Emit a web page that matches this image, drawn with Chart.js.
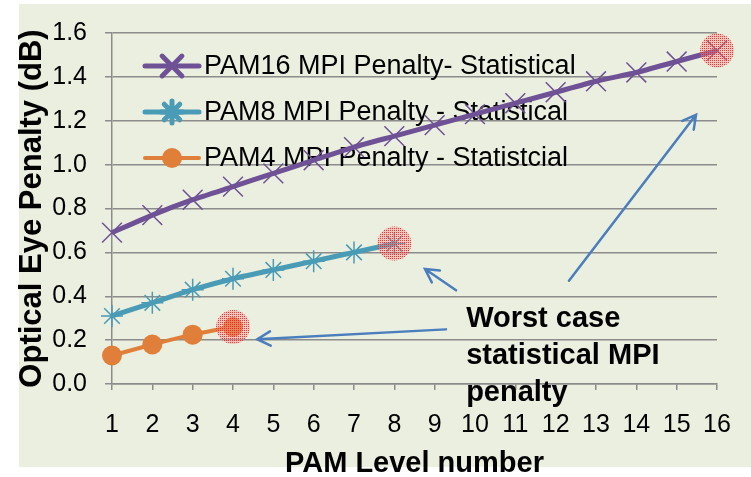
<!DOCTYPE html>
<html>
<head>
<meta charset="utf-8">
<script src="https://cdn.jsdelivr.net/npm/chart.js@4/dist/chart.umd.min.js"></script>
<style>
  body { margin: 0; background: #fff; }
  #wrap { width: 751px; height: 477px; position: relative; }
</style>
</head>
<body>
<div id="wrap"><canvas id="mpiChart"></canvas></div>
<script>
// PAM level numbers on the x axis
const levels = [1, 2, 3, 4, 5, 6, 7, 8, 9, 10, 11, 12, 13, 14, 15, 16];
const yTicks = [0, 0.2, 0.4, 0.6, 0.8, 1.0, 1.2, 1.4, 1.6];

// penalty values (dB)
const pam16 = [0.69, 0.77, 0.84, 0.90, 0.96, 1.02, 1.08, 1.13, 1.18, 1.23, 1.28, 1.33, 1.38, 1.42, 1.47, 1.52];
const pam8 = [0.31, 0.37, 0.43, 0.48, 0.52, 0.56, 0.60, 0.64];
const pam4 = [0.13, 0.18, 0.225, 0.26];

const seriesNames = ['PAM16 MPI Penalty- Statistical', 'PAM8 MPI Penalty - Statistical', 'PAM4 MPI Penalty - Statistcial'];
const noteLines = ['Worst case', 'statistical MPI', 'penalty'];

const FONT = "'Liberation Sans', Arial, sans-serif";
const purple = '#6f5296';
const teal = '#4a9bb6';
const orange = '#e07f3a';
const arrowBlue = '#4a7ebd';

// worst case points = last value of every series
const worst = levels.map((l, i) => {
  if (i === pam4.length - 1) return pam4[i];
  if (i === pam8.length - 1) return pam8[i];
  if (i === pam16.length - 1) return pam16[i];
  return null;
});

// dotted red fill for the highlight circles
function dotPattern() {
  const c = document.createElement('canvas');
  c.width = 2; c.height = 2;
  const g = c.getContext('2d');
  g.fillStyle = 'rgba(255,140,140,0.4)';
  g.fillRect(0, 0, 2, 2);
  g.fillStyle = 'rgba(240,20,20,0.8)';
  g.fillRect(0, 0, 1, 1);
  return g.createPattern(c, 'repeat');
}

const frame = {
  id: 'frame',
  beforeDraw(chart) {
    const ctx = chart.ctx;
    ctx.save();
    ctx.fillStyle = '#ffffff';
    ctx.fillRect(0, 0, chart.width, chart.height);
    ctx.fillStyle = '#ebefdf';
    ctx.fillRect(19, 4, chart.width - 19, 463);
    ctx.restore();
  }
};

// legend drawn inside the plot area
const innerLegend = {
  id: 'innerLegend',
  beforeDatasetsDraw(chart) {
    const ctx = chart.ctx;
    const area = chart.chartArea;
    ctx.save();
    for (let i = 0; i < 3; i++) {
      const ds = chart.data.datasets[i];
      const y = area.top + 33 + i * 46;
      const x0 = area.left + 33;
      ctx.strokeStyle = ds.borderColor;
      ctx.lineWidth = ds.borderWidth;
      ctx.lineCap = 'round';
      ctx.beginPath();
      ctx.moveTo(x0, y);
      ctx.lineTo(x0 + 54, y);
      ctx.stroke();
      ctx.fillStyle = ds.pointBackgroundColor;
      ctx.strokeStyle = ds.pointBorderColor;
      Chart.helpers.drawPoint(ctx, {
        pointStyle: ds.pointStyle, radius: ds.pointRadius,
        borderWidth: ds.pointBorderWidth, rotation: 0
      }, x0 + 27, y);
      ctx.fillStyle = '#000';
      ctx.font = '27px ' + FONT;
      ctx.textBaseline = 'middle';
      ctx.textAlign = 'left';
      ctx.fillText(seriesNames[i], x0 + 59, y + 1);
    }
    ctx.restore();
  }
};

// note text and arrows, anchored in data units (level, dB)
const arrows = [
  { from: [9.28, 0.249], to: [4.6, 0.204] },
  { from: [9.53, 0.427], to: [8.76, 0.524] },
  { from: [12.33, 0.471], to: [15.48, 1.227] }
];
const noteAt = [9.78, 0.262];

const notes = {
  id: 'notes',
  afterDatasetsDraw(chart) {
    const ctx = chart.ctx;
    const xs = chart.scales.x, ys = chart.scales.y;
    const px = (l) => xs.getPixelForValue(l - 1);
    const py = (v) => ys.getPixelForValue(v);
    ctx.save();
    ctx.strokeStyle = arrowBlue;
    ctx.lineWidth = 2.5;
    ctx.lineCap = 'round';
    arrows.forEach(a => {
      const x1 = px(a.from[0]), y1 = py(a.from[1]);
      const x2 = px(a.to[0]), y2 = py(a.to[1]);
      const ang = Math.atan2(y2 - y1, x2 - x1);
      ctx.beginPath();
      ctx.moveTo(x1, y1);
      ctx.lineTo(x2, y2);
      ctx.moveTo(x2 - 15 * Math.cos(ang - 0.5), y2 - 15 * Math.sin(ang - 0.5));
      ctx.lineTo(x2, y2);
      ctx.lineTo(x2 - 15 * Math.cos(ang + 0.5), y2 - 15 * Math.sin(ang + 0.5));
      ctx.stroke();
    });
    ctx.fillStyle = '#000';
    ctx.font = 'bold 29px ' + FONT;
    ctx.textAlign = 'left';
    ctx.textBaseline = 'alphabetic';
    noteLines.forEach((t, i) => {
      ctx.fillText(t, px(noteAt[0]), py(noteAt[1]) + i * 37);
    });
    ctx.restore();
  }
};

const ctx = document.getElementById('mpiChart').getContext('2d');
new Chart(ctx, {
  type: 'line',
  data: {
    labels: levels,
    datasets: [{
      label: seriesNames[0],
      data: pam16,
      borderColor: purple,
      borderWidth: 5,
      pointStyle: 'crossRot',
      pointRadius: 14,
      pointBorderWidth: 1.5,
      pointBorderColor: purple,
      pointBackgroundColor: purple,
      tension: 0.2
    }, {
      label: seriesNames[1],
      data: pam8,
      borderColor: teal,
      borderWidth: 5,
      pointStyle: 'star',
      pointRadius: 11,
      pointBorderWidth: 1.5,
      pointBorderColor: teal,
      pointBackgroundColor: teal,
      tension: 0.2
    }, {
      label: seriesNames[2],
      data: pam4,
      borderColor: orange,
      borderWidth: 4,
      pointStyle: 'circle',
      pointRadius: 10,
      pointBorderWidth: 0,
      pointBorderColor: orange,
      pointBackgroundColor: orange,
      tension: 0.2
    }, {
      label: 'worst',
      data: worst,
      showLine: false,
      pointStyle: 'circle',
      pointRadius: 17,
      pointBorderWidth: 0,
      pointBackgroundColor: dotPattern(),
      order: -1
    }]
  },
  options: {
    responsive: true,
    maintainAspectRatio: false,
    animation: false,
    events: [],
    layout: {
      padding: { left: 14, top: 24, right: 34, bottom: 0 }
    },
    scales: {
      x: {
        offset: false,
        afterFit(s) { s.height = 93; },
        grid: {
          drawOnChartArea: false,
          drawTicks: true,
          tickLength: 6,
          color: '#8c8c8c',
          lineWidth: 1.5
        },
        border: { display: true, color: '#8c8c8c', width: 1.5 },
        ticks: {
          color: '#000',
          font: { size: 25, family: FONT },
          padding: 20,
          maxRotation: 0,
          autoSkip: false
        },
        title: {
          display: true,
          text: 'PAM Level number',
          color: '#000',
          font: { size: 29, family: FONT, weight: 'bold' },
          padding: { top: 0, bottom: -4 }
        }
      },
      y: {
        min: 0,
        max: 1.6,
        afterFit(s) { s.width = 112 - 14; },
        afterBuildTicks(s) { s.ticks = yTicks.map(v => ({ value: v })); },
        grid: {
          color: '#8c8c8c',
          lineWidth: 1.5,
          tickLength: 7
        },
        border: { display: true, color: '#8c8c8c', width: 1.5 },
        ticks: {
          color: '#000',
          font: { size: 25, family: FONT },
          padding: 18,
          callback: v => v.toFixed(1)
        },
        title: {
          display: true,
          text: 'Optical Eye Penalty (dB)',
          color: '#000',
          font: { size: 31, family: FONT, weight: 'bold' },
          padding: 0
        }
      }
    },
    plugins: {
      legend: { display: false },
      tooltip: { enabled: false }
    }
  },
  plugins: [frame, innerLegend, notes]
});
</script>
</body>
</html>
